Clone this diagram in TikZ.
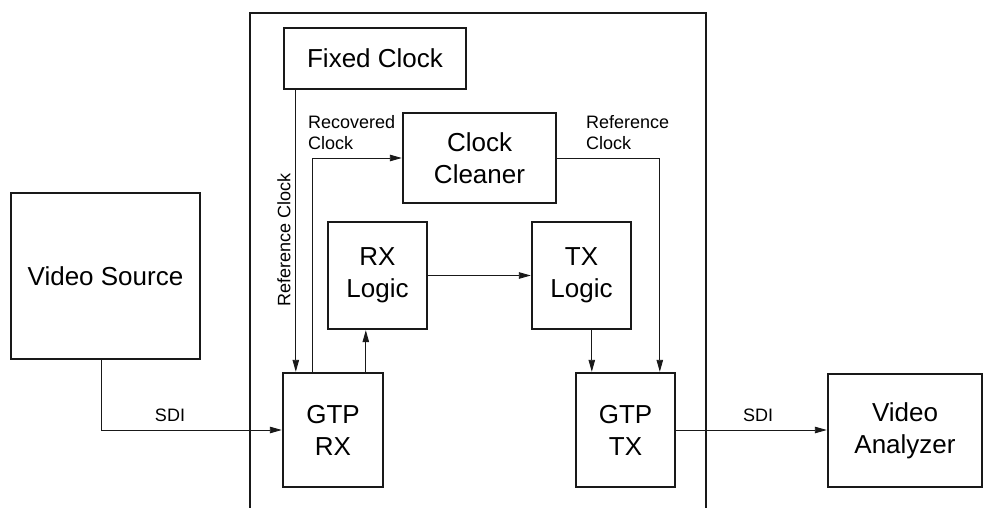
\documentclass[tikz,border=0pt]{standalone}
\usepackage{fontspec}
\setmainfont{Liberation Sans}
\usetikzlibrary{arrows.meta,calc}
\begin{document}
\begin{tikzpicture}[x=1pt,y=-1pt,
  blk/.style={draw=black!90, line width=2.4pt, inner sep=0pt, align=center,
    font=\fontsize{26}{32}\selectfont},
  conn/.style={draw=black!90, line width=0.9pt, -{Triangle[length=12pt,width=6.5pt]}},
  plain/.style={draw=black!90, line width=0.9pt},
  lbl/.style={inner sep=0pt, align=left, font=\fontsize{18}{21}\selectfont},
  frame/.style={draw=black!90, line width=2.6pt}]
\useasboundingbox (0,0) rectangle (984,508);
% container
\coordinate (fbl) at (250,508);
\coordinate (ftl) at (250,13);
\coordinate (ftr) at (706,13);
\coordinate (fbr) at (706,508);
\draw[frame] (fbl) -- (ftl) -- (ftr) -- (fbr);
% blocks
\node[blk, minimum width=182pt, minimum height=61pt] (fc) at (375,58.5) {Fixed Clock};
\node[blk, minimum width=153pt, minimum height=90pt] (cc) at (479.5,158) {Clock\\Cleaner};
\node[blk, minimum width=99pt, minimum height=107pt] (rxl) at (377.5,275.5) {RX\\Logic};
\node[blk, minimum width=99pt, minimum height=107pt] (txl) at (581.5,275.5) {TX\\Logic};
\node[blk, minimum width=100pt, minimum height=114pt] (grx) at (333,430) {GTP\\RX};
\node[blk, minimum width=99pt, minimum height=114pt] (gtx) at (625.5,430) {GTP\\TX};
\node[blk, minimum width=189pt, minimum height=166pt] (vs) at (105.5,276) {Video Source};
\node[blk, minimum width=154pt, minimum height=113pt] (va) at (905,430.5) {Video\\Analyzer};
% connection points
\coordinate (rcin) at ($(grx.north west)+(14,0)$);
\coordinate (rcout) at ($(grx.north west)+(31,0)$);
\coordinate (rxup) at ($(grx.north west)+(84,0)$);
\coordinate (txdn) at ($(txl.south west)+(61,0)$);
\coordinate (refin) at ($(gtx.north west)+(85,0)$);
\coordinate (vsout) at ($(vs.south west)+(92,0)$);
% connectors
\draw[conn] (fc.south -| rcin) -- (rcin);
\draw[conn] (rcout) |- (cc.west);
\draw[conn] (cc.east) -| (refin);
\draw[conn] (rxup) -- (rxup |- rxl.south);
\draw[conn] (rxl.east) -- (txl.west);
\draw[conn] (txdn) -- (txdn |- gtx.north);
\draw[conn] (vsout) |- (grx.west);
\draw[conn] (gtx.east) -- (gtx.east -| va.west);
% labels
\node[lbl, rotate=90] (lrc) at (284,240) {Reference Clock};
\node[lbl, anchor=north west] (lrec) at (308,115) {Recovered\\Clock};
\node[lbl, anchor=north west] (lref) at (586,115) {Reference\\Clock};
\node[lbl] (lsdi1) at (170,415) {SDI};
\node[lbl] (lsdi2) at (758,415) {SDI};
\end{tikzpicture}
\end{document}
